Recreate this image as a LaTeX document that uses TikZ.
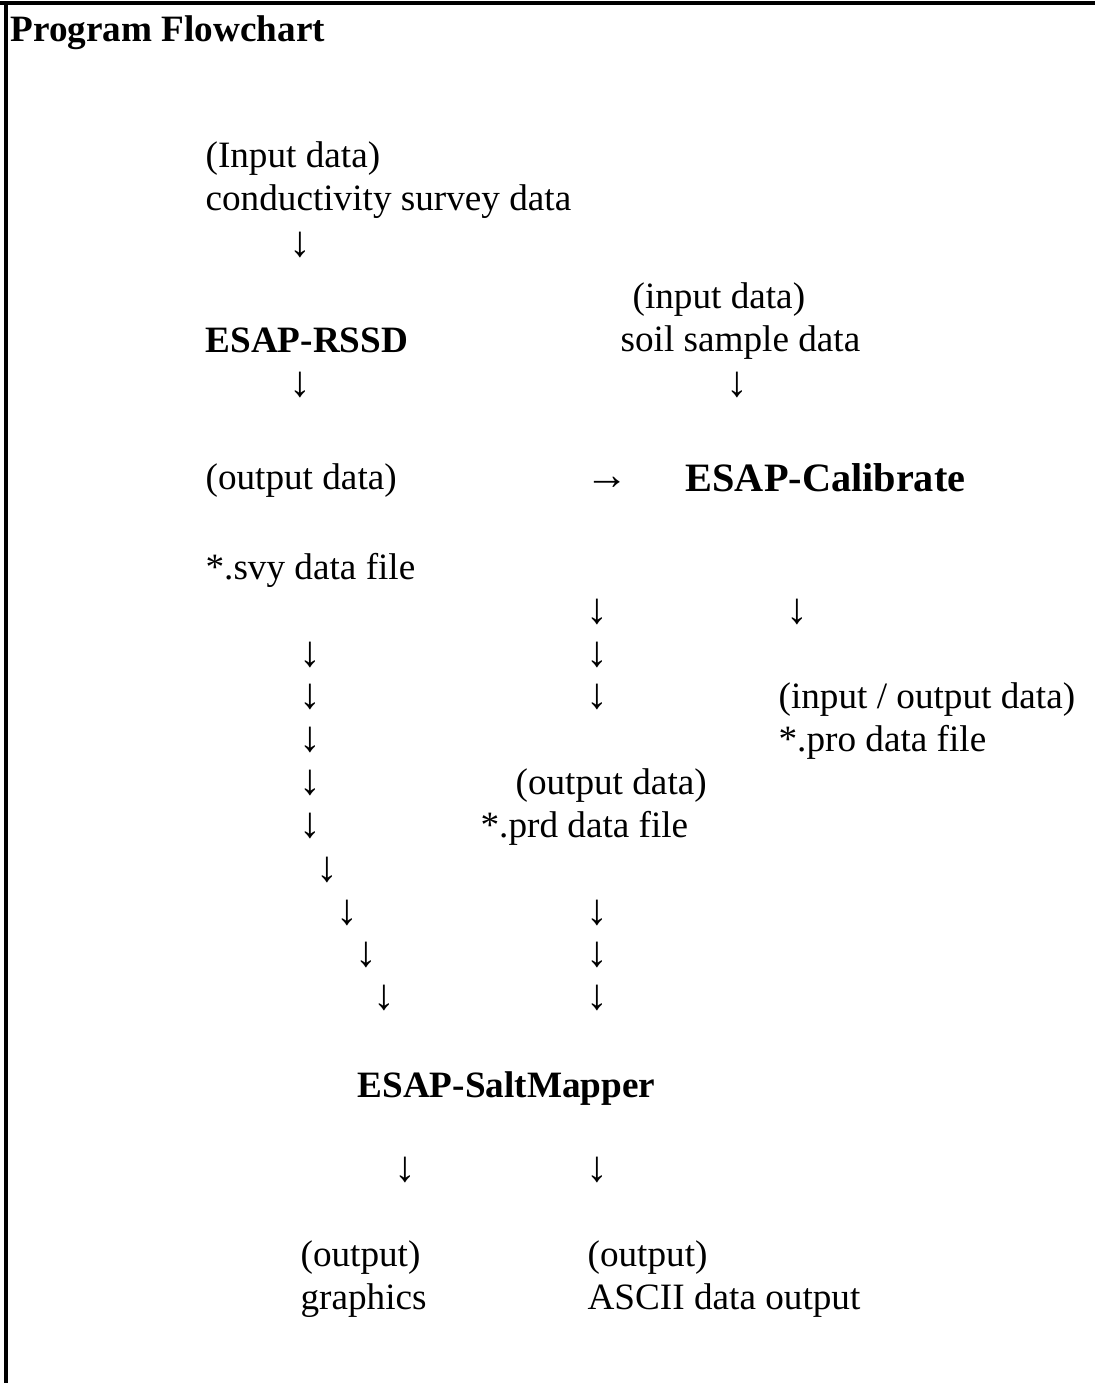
\documentclass[tikz,border=0pt]{standalone}
\usepackage{fontspec}
\setmainfont{Liberation Serif}
\usetikzlibrary{positioning}

\begin{document}
\begin{tikzpicture}[
  x=0.3226pt, y=-0.3226pt,
  font=\fontsize{12}{14}\selectfont,
  txt/.style={inner sep=0pt, anchor=base west},
  hd/.style={txt, font=\fontsize{12}{14}\selectfont\bfseries},
  bighd/.style={txt, font=\fontsize{13}{15}\selectfont\bfseries},
  dn/.style={inner sep=0pt, font=\fontsize{14}{16}\selectfont},
  frame/.style={line width=1pt}
]
\useasboundingbox (0,0) rectangle (1095,1383);
% page frame (top and left only)
\draw[frame] (0,3) -- (1095,3);
\draw[frame] (6,1.5) -- (6,1383);

\node[hd] (title) at (10,42) {Program Flowchart};

% survey branch
\node[txt] (insvy) at (205,168) {(Input data)};
\node[txt] (cond)  at (205,211) {conductivity survey data};
\node[hd]  (rssd)  at (205,352) {ESAP-RSSD};
\node[txt] (outsvy) at (205,489) {(output data)};
\node[txt] (svy)   at (205,579) {*.svy data file};

% calibration branch
\node[txt]   (insoil) at (632,308) {(input data)};
\node[txt]   (soil)   at (620,351) {soil sample data};
\node[dn]    (rt)     at (607,483) {→};
\node[bighd] (cal)    at (685,491) {ESAP-Calibrate};
\node[txt]   (iopro)  at (778,708) {(input / output data)};
\node[txt]   (pro)    at (778,751) {*.pro data file};
\node[txt]   (outprd) at (515,794) {(output data)};
\node[txt]   (prd)    at (480,837) {*.prd data file};

% mapping and outputs
\node[hd]  (salt)  at (357,1097) {ESAP-SaltMapper};
\node[txt] (outg)  at (300,1266) {(output)};
\node[txt] (gfx)   at (300,1309) {graphics};
\node[txt] (outa)  at (587,1266) {(output)};
\node[txt] (ascii) at (587,1309) {ASCII data output};

% down arrows
\foreach \n/\x/\y in {d1/300/245, d2/300/385, d3/737/385,
    d4/597/612, d5/797/612, d6/310/655, d7/597/655, d8/310/697, d9/597/697,
    d10/310/740, d11/310/783, d12/310/826, d13/327/870,
    d14/347/913, d15/597/913, d16/366/955, d17/597/955, d18/384/998, d19/597/998,
    d20/405/1170, d21/597/1170}
  \node[dn] (\n) at (\x,\y) {↓};
\end{tikzpicture}
\end{document}
